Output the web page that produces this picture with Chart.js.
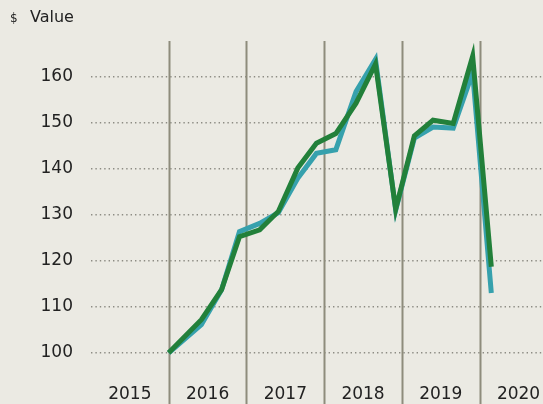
<!DOCTYPE html>
<html>
<head>
    <title>Value chart</title>
    <script src="https://cdn.jsdelivr.net/npm/chart.js"></script>
    <style>
        html, body {
            margin: 0;
            padding: 0;
            background: #ebeae3;
        }
        #wrap {
            width: 543px;
            height: 404px;
        }
    </style>
</head>
<body>
    <div id="wrap"><canvas id="chart"></canvas></div>

    <script>
        // dates as decimal years
        const dates = [2016.0, 2016.42, 2016.68, 2016.91, 2017.17, 2017.41, 2017.66, 2017.90,
                       2018.15, 2018.41, 2018.66, 2018.92, 2019.16, 2019.40, 2019.66, 2019.91, 2020.15];
        const seriesA = [100.0, 106.1, 113.7, 126.3, 128.1, 130.4, 137.9, 143.3,
                         144.1, 156.7, 163.7, 131.0, 146.6, 149.0, 148.8, 160.8, 113.0];
        const seriesB = [100.0, 107.2, 113.7, 125.2, 126.7, 130.7, 140.1, 145.5,
                         147.6, 154.2, 162.7, 131.2, 147.1, 150.5, 149.8, 164.4, 118.7];
        const years = [2015, 2016, 2017, 2018, 2019, 2020];
        const yTicks = [100, 110, 120, 130, 140, 150, 160];

        const toPoints = vals => vals.map((v, i) => ({ x: dates[i], y: v }));

        const FONT = 'DejaVu Sans';

        // solid lines at each year boundary, running through the label band
        const yearLines = {
            id: 'yearLines',
            beforeDatasetsDraw(chart) {
                const ctx = chart.ctx;
                const xs = chart.scales.x;
                ctx.save();
                ctx.strokeStyle = '#8e8c7c';
                ctx.lineWidth = 2;
                years.slice(1).forEach(yr => {
                    const px = Math.round(xs.getPixelForValue(yr)) + 0.5;
                    ctx.beginPath();
                    ctx.moveTo(px, chart.chartArea.top);
                    ctx.lineTo(px, chart.height);
                    ctx.stroke();
                });
                ctx.restore();
            }
        };

        const unitLabel = {
            id: 'unitLabel',
            afterDraw(chart) {
                const ctx = chart.ctx;
                ctx.save();
                ctx.fillStyle = '#222';
                ctx.textBaseline = 'middle';
                ctx.font = '12px ' + FONT;
                ctx.fillText('$', 10, 19);
                ctx.font = '16px ' + FONT;
                ctx.fillText('Value', 30, 18);
                ctx.restore();
            }
        };

        new Chart(document.getElementById('chart'), {
            type: 'line',
            data: {
                datasets: [
                    { label: 'Series B', data: toPoints(seriesB), borderColor: '#22803a', borderWidth: 5,
                      pointRadius: 0, borderJoinStyle: 'miter', tension: 0 },
                    { label: 'Series A', data: toPoints(seriesA), borderColor: '#36a1ad', borderWidth: 5,
                      pointRadius: 0, borderJoinStyle: 'miter', tension: 0 }
                ]
            },
            options: {
                responsive: true,
                maintainAspectRatio: false,
                animation: false,
                layout: { padding: { top: 41, left: 0, right: 0, bottom: 0 } },
                plugins: {
                    legend: { display: false },
                    tooltip: { enabled: false }
                },
                scales: {
                    x: {
                        type: 'linear',
                        min: 2015,
                        max: 2020.815,
                        afterBuildTicks: s => { s.ticks = years.map(y => ({ value: y + 0.5 })); },
                        afterFit: s => {
                            s.height = 36;
                            s.paddingLeft = 0;
                            s.paddingRight = 0;
                        },
                        grid: { display: false },
                        border: { display: false },
                        ticks: {
                            padding: 8,
                            maxRotation: 0,
                            autoSkip: false,
                            color: '#222',
                            font: { family: FONT, size: 17 },
                            callback: v => String(Math.floor(v))
                        }
                    },
                    y: {
                        min: 96.7,
                        max: 167.7,
                        afterBuildTicks: s => { s.ticks = yTicks.map(v => ({ value: v })); },
                        afterFit: s => { s.width = 91; },
                        grid: { color: '#8d8c84', lineWidth: 1.4, drawTicks: false },
                        border: { display: false, dash: [1.4, 3] },
                        ticks: {
                            padding: 18,
                            color: '#222',
                            font: { family: FONT, size: 17 }
                        }
                    }
                }
            },
            plugins: [yearLines, unitLabel]
        });
    </script>
</body>
</html>
